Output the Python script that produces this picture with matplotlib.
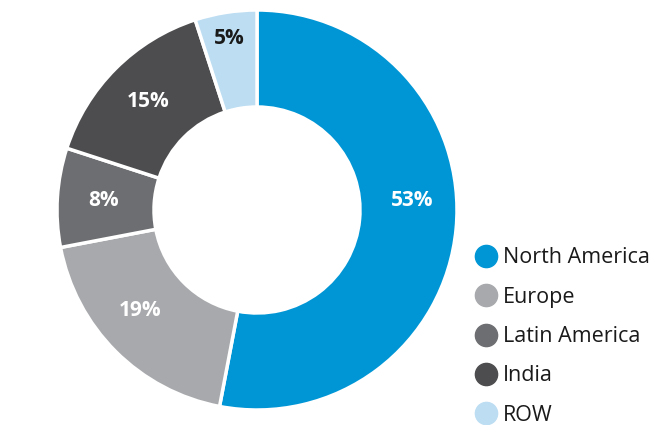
import matplotlib
matplotlib.use("Agg")
import matplotlib.pyplot as plt
from matplotlib.lines import Line2D

regions = ["North America", "Europe", "Latin America", "India", "ROW"]
shares = [53, 19, 8, 15, 5]
colors = ["#0096D6", "#A7A9AC", "#6D6E71", "#4D4D4F", "#BCDDF2"]
label_colors = ["white", "white", "white", "white", "#1a1a1a"]

plt.rcParams['font.family'] = ['Open Sans', 'DejaVu Sans']

fig = plt.figure(figsize=(6.6, 4.25), dpi=100)
ax = fig.add_axes([0, 0, 1, 1])

wedges, texts, autotexts = ax.pie(
    shares, colors=colors, startangle=90, counterclock=False,
    center=(257, 215), radius=200, frame=True,
    wedgeprops=dict(width=97, edgecolor='white', linewidth=2.5),
    autopct=lambda p: f'{p:.0f}%', pctdistance=0.77,
    textprops=dict(fontsize=15, fontweight='bold'))
ax.set_xlim(0, 660)
ax.set_ylim(0, 425)
ax.set_aspect('equal')
ax.axis('off')

for t, c in zip(autotexts, label_colors):
    t.set_color(c)
# the small ROW slice has its label pushed out toward the rim
x, y = autotexts[-1].get_position()
autotexts[-1].set_position((257 + (x - 257) * 1.13, 215 + (y - 215) * 1.13))
# big slice label sits a bit above its midpoint
x, y = autotexts[0].get_position()
autotexts[0].set_position((x + 2, y + 24))
x, y = autotexts[1].get_position()
autotexts[1].set_position((x - 8, y + 8))

handles = [Line2D([], [], marker='o', linestyle='', markersize=16,
                  markerfacecolor=c, markeredgecolor=c) for c in colors]
ax.legend(handles, regions, loc='upper left', bbox_to_anchor=(0.7005, 0.443),
          frameon=False, fontsize=15.5, labelspacing=0.85, handletextpad=0.17,
          handlelength=1.2, borderpad=0, labelcolor='#1a1a1a')

fig.savefig("out.png", dpi=100)
